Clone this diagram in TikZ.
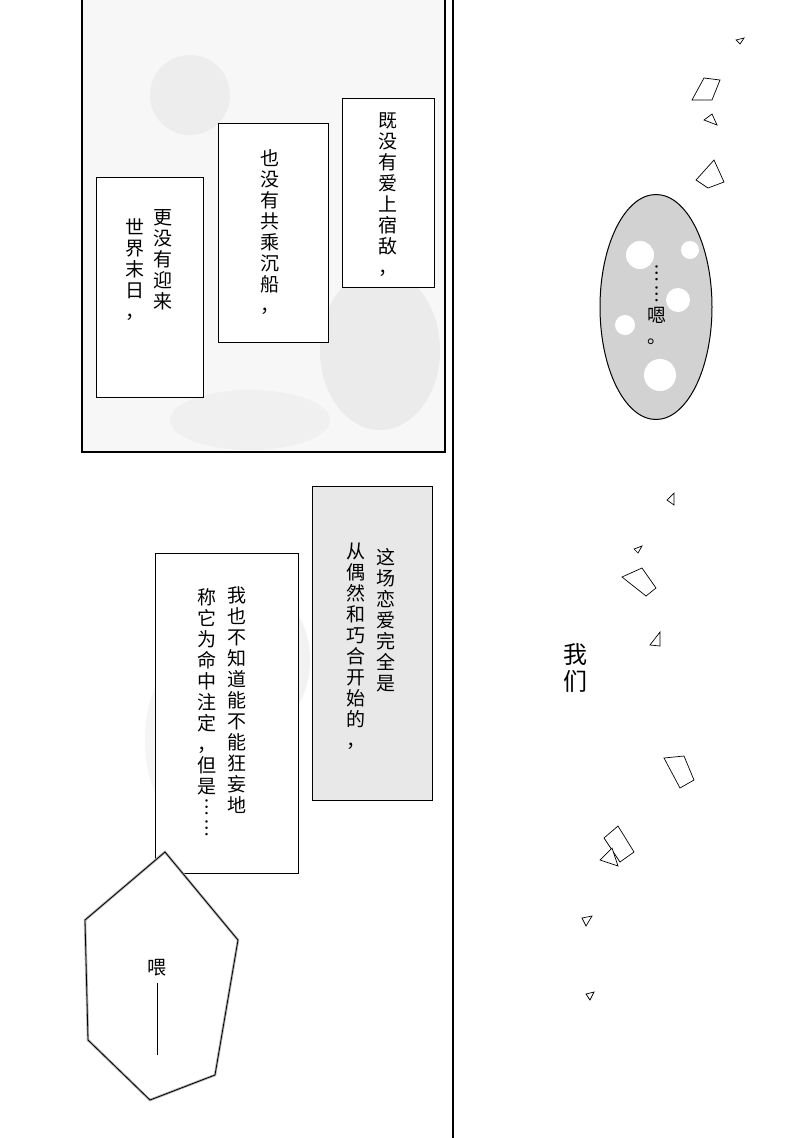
\documentclass[tikz,border=0pt]{standalone}
\usepackage{fontspec}
\usetikzlibrary{shapes.geometric}
\newfontfamily\cjk{Noto Sans CJK SC}
\begin{document}
\begin{tikzpicture}[x=1pt,y=-1pt,
  box/.style={draw,line width=1pt,fill=white},
  vt/.style={font=\cjk\fontsize{19}{21}\selectfont,align=center,inner sep=0pt},
  shard/.style={draw,line width=0.7pt,fill=white},
  frame/.style={line width=1.5pt}]
\useasboundingbox (0,0) rectangle (800,1138);
\fill[white] (0,0) rectangle (800,1138);
% textures
\fill[gray!6] (82,0) rectangle (445,452);
\fill[gray!14] (190,95) circle (40);
\fill[gray!16] (380,350) ellipse (60 and 80);
\fill[gray!12] (250,420) ellipse (80 and 30);
\fill[gray!10] (260,660) ellipse (50 and 70);
\fill[gray!8] (175,740) ellipse (30 and 70);
% frames
\draw[frame] (82,0) -- (82,452) -- (445,452) -- (445,0);
\draw[frame] (453,0) -- (453,1138);
% text boxes
\node[box,minimum width=92,minimum height=189] (b1) at (388,192.5) {};
\node[vt] (t1) at (388,195) {既\\没\\有\\爱\\上\\宿\\敌\\，};
\node[box,minimum width=110,minimum height=219] (b2) at (273,232.5) {};
\node[vt] (t2) at (270,232) {也\\没\\有\\共\\乘\\沉\\船\\，};
\node[box,minimum width=107,minimum height=220] (b3) at (149.5,287) {};
\node[vt] (t3a) at (163,260) {更\\没\\有\\迎\\来};
\node[vt] (t3b) at (135,270) {世\\界\\末\\日\\，};
% oval
\node[draw,line width=1pt,fill=gray!35,ellipse,minimum width=112,minimum height=225] (ov) at (656,307) {};
\fill[white] (640,255) circle (14) (678,300) circle (12) (625,325) circle (10) (660,375) circle (16) (690,250) circle (9);
\node[vt] (t4) at (657,305) {︙\\︙\\嗯\\。};
% box4
\node[box,fill=gray!18,minimum width=120,minimum height=314] (b4) at (372,643) {};
\node[vt] (t4a) at (386,620) {这\\场\\恋\\爱\\完\\全\\是};
\node[vt] (t4b) at (356,646) {从\\偶\\然\\和\\巧\\合\\开\\始\\的\\，};
% box5
\node[box,minimum width=143,minimum height=320] (b5) at (226.5,713) {};
\node[vt] (t5a) at (237,700) {我\\也\\不\\知\\道\\能\\不\\能\\狂\\妄\\地};
\node[vt] (t5b) at (207,712) {称\\它\\为\\命\\中\\注\\定\\，\\但\\是\\︙\\︙};
% speech polygon
\draw[line width=2.5pt,gray!60,fill=white] (85,920) -- (165,852) -- (238,940) -- (215,1075) -- (150,1100) -- (88,1040) -- cycle;
\draw[line width=0.8pt] (85,920) -- (165,852) -- (238,940) -- (215,1075) -- (150,1100) -- (88,1040) -- cycle;
\node[vt] (t6) at (157,968) {喂};
\coordinate (d1) at (157,983);
\coordinate (d2) at (157,1055);
\draw[line width=1pt] (d1) -- (d2);
% we
\node[vt,font=\cjk\fontsize{24}{27}\selectfont] (t7) at (575,668) {我\\们};
% shards
\draw[shard] (736,40)--(744,38)--(740,44)--cycle;
\draw[shard] (692,100)--(704,78)--(720,80)--(712,100)--cycle;
\draw[shard] (704,120)--(712,114)--(717,125)--cycle;
\draw[shard] (696,180)--(714,160)--(724,182)--(708,188)--cycle;
\draw[shard] (667,500)--(674,493)--(674,505)--cycle;
\draw[shard] (634,549)--(642,546)--(638,553)--cycle;
\draw[shard] (622,577)--(642,568)--(656,588)--(646,596)--cycle;
\draw[shard] (650,645)--(660,632)--(660,646)--cycle;
\draw[shard] (664,758)--(684,756)--(694,780)--(680,788)--cycle;
\draw[shard] (604,838)--(618,826)--(634,852)--(620,862)--cycle;
\draw[shard] (600,860)--(612,848)--(618,866)--cycle;
\draw[shard] (582,918)--(592,916)--(586,926)--cycle;
\draw[shard] (586,994)--(594,992)--(590,1000)--cycle;
\end{tikzpicture}
\end{document}
